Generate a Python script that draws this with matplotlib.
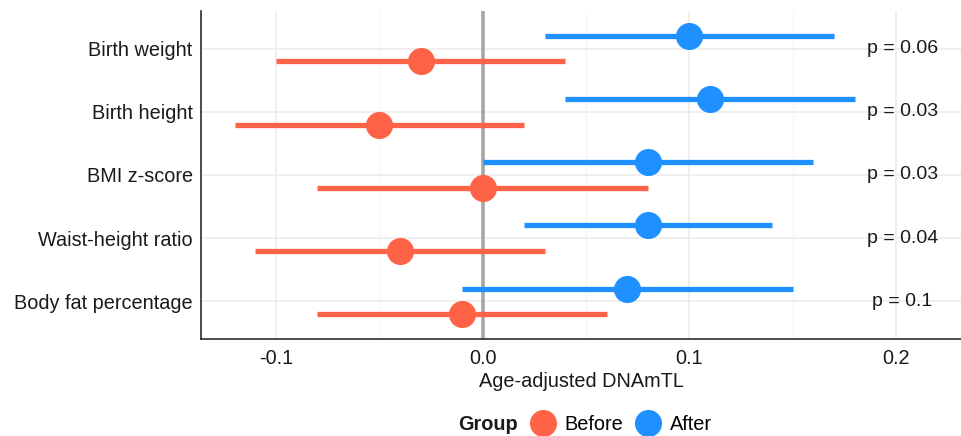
import matplotlib
matplotlib.use("Agg")
import matplotlib.pyplot as plt
from matplotlib.lines import Line2D
from matplotlib.ticker import MultipleLocator

plt.rcParams['font.family'] = ['Liberation Sans', 'DejaVu Sans']

categories = ['Birth weight', 'Birth height', 'BMI z-score', 'Waist-height ratio', 'Body fat percentage']
after_est = [0.10, 0.11, 0.08, 0.08, 0.07]
after_lo = [0.03, 0.04, 0.00, 0.02, -0.01]
after_hi = [0.17, 0.18, 0.16, 0.14, 0.15]
before_est = [-0.03, -0.05, 0.00, -0.04, -0.01]
before_lo = [-0.10, -0.12, -0.08, -0.11, -0.08]
before_hi = [0.04, 0.02, 0.08, 0.03, 0.06]
p_labels = ['p = 0.06', 'p = 0.03', 'p = 0.03', 'p = 0.04', 'p = 0.1']

RED = '#FF6347'
BLUE = '#1E90FF'
FS = 14.3

fig = plt.figure(figsize=(9.61, 4.36), dpi=100)
ax = fig.add_axes([0.2092, 0.2225, 0.7908, 0.7523])

ax.axvline(0, color='#A6A6A6', lw=2.6, zorder=1)

n = len(categories)
ypos = [n - i for i in range(n)]
for i, y in enumerate(ypos):
    ya = y + 0.2
    yb = y - 0.2
    ax.plot([after_lo[i], after_hi[i]], [ya, ya], color=BLUE, lw=3.8, solid_capstyle='butt', zorder=2)
    ax.plot([after_est[i]], [ya], 'o', color=BLUE, ms=19.5, mew=0, zorder=3)
    ax.plot([before_lo[i], before_hi[i]], [yb, yb], color=RED, lw=3.8, solid_capstyle='butt', zorder=2)
    ax.plot([before_est[i]], [yb], 'o', color=RED, ms=19.5, mew=0, zorder=3)
    ax.text(0.203, y, p_labels[i], ha='center', va='center', fontsize=14, color='#1a1a1a')

ax.set_xlim(-0.1363, 0.2314)
ax.set_ylim(0.4, n + 0.6)
ax.set_yticks(ypos)
ax.set_yticklabels(categories)
ax.xaxis.set_minor_locator(MultipleLocator(0.05))
ax.set_xticks([-0.1, 0.0, 0.1, 0.2])
ax.set_xticklabels(['-0.1', '0.0', '0.1', '0.2'])

ax.grid(True, which='major', color='#EBEBEB', lw=1.1, zorder=0)
ax.grid(True, which='minor', axis='x', color='#F3F3F3', lw=0.6, zorder=0)
ax.set_axisbelow(True)

for side in ['top', 'right']:
    ax.spines[side].set_visible(False)
for side in ['left', 'bottom']:
    ax.spines[side].set_color('#1a1a1a')
    ax.spines[side].set_linewidth(1.1)

ax.tick_params(axis='both', which='both', length=0, labelsize=FS, colors='#1a1a1a', pad=6)
ax.tick_params(axis='x', pad=7)
ax.set_xlabel('Age-adjusted DNAmTL', fontsize=FS, color='#1a1a1a', labelpad=3)

fig.text(0.508, 0.027, 'Group', fontsize=FS, fontweight='bold', ha='center', va='center', color='#1a1a1a')
handles = [Line2D([], [], ls='none', marker='o', ms=19.5, mew=0, color=RED),
           Line2D([], [], ls='none', marker='o', ms=19.5, mew=0, color=BLUE)]
fig.legend(handles, ['Before', 'After'], ncol=2, loc='center left',
           bbox_to_anchor=(0.5546, 0.027), frameon=False, fontsize=FS,
           handlelength=1.0, handletextpad=0.6, columnspacing=0.75, borderpad=0, borderaxespad=0)

fig.savefig('out.png', dpi=100)
